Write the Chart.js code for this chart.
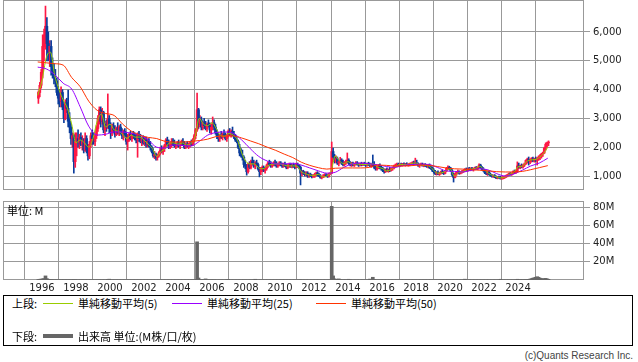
<!DOCTYPE html>
<html>
<head>
<meta charset="utf-8">
<script src="https://cdn.jsdelivr.net/npm/chart.js@4.4.1/dist/chart.umd.min.js"></script>
<style>
body { margin: 0; width: 638px; height: 362px; background: #fff; position: relative; overflow: hidden; font-family: "Noto Sans CJK JP", sans-serif; }
canvas { position: absolute; left: 0; }
#price { top: 0; }
#volume { top: 200px; }
.t { position: absolute; font-size: 11px; line-height: 12px; color: #000; white-space: nowrap; }
#legend { position: absolute; left: 3px; top: 295px; width: 628px; height: 49px; border: 1px solid #000; }
.ln { position: absolute; width: 30px; height: 1px; }
#copy { position: absolute; right: 5px; top: 350px; font-family: "Liberation Sans", sans-serif; font-size: 10px; color: #444; }
</style>
</head>
<body>
<canvas id="price" width="638" height="191"></canvas>
<canvas id="volume" width="638" height="94"></canvas>
<div class="t" style="left:7px; top:204px;">単位: M</div>
<div id="legend">
  <div class="t" style="left:8px; top:1px;">上段:</div>
  <div class="ln" style="left:39px; top:7px; background:#99cc00;"></div>
  <div class="t" style="left:74px; top:1px;">単純移動平均(5)</div>
  <div class="ln" style="left:168px; top:7px; background:#9900ff;"></div>
  <div class="t" style="left:203px; top:1px;">単純移動平均(25)</div>
  <div class="ln" style="left:312px; top:7px; background:#ff3300;"></div>
  <div class="t" style="left:347px; top:1px;">単純移動平均(50)</div>
  <div class="t" style="left:8px; top:34px;">下段:</div>
  <div class="ln" style="left:39px; top:38px; height:4px; background:#666;"></div>
  <div class="t" style="left:74px; top:34px;">出来高 単位:(M株/口/枚)</div>
</div>
<div id="copy">(c)Quants Research Inc.</div>

<script>
// monthly candles, first one is October 1995
const startYear = 1995;
const startMonth = 10;

const candleOpen = [
  3700, 3900, 4150,
  4600, 5500, 5900, 6200, 5600, 5300, 5500, 4800, 4700, 4400, 4300, 3900,
  3700, 3600, 3900, 3400, 3000, 3550, 3350, 2900, 2700, 2300, 2400, 1500,
  2200, 2300, 2150, 2350, 2100, 2200, 1900, 2300, 1900, 1700, 2100, 2400,
  2300, 2200, 2400, 2650, 3000, 3300, 2900, 3200, 2600, 2800, 2700, 3000,
  2650, 2500, 2700, 2600, 2450, 2650, 2500, 2700, 2500, 2400, 2550, 2400,
  2200, 2350, 2450, 2300, 2450, 2400, 2350, 2250, 2400, 2300, 2200, 2300,
  2150, 2250, 2100, 2200, 2050, 2000, 1850, 1700, 1750, 1650, 1700, 1800,
  1900, 1850, 1950, 2050, 2250, 2100, 2000, 2100, 2200, 2100, 2050, 2050,
  2150, 2050, 2100, 2200, 2100, 2000, 2100, 2050, 2100, 2150, 2100, 2250,
  2400, 2600, 3300, 2800, 2950, 2700, 2850, 2750, 2650, 2800, 2750, 2600,
  2700, 2850, 2700, 2500, 2400, 2300, 2400, 2350, 2450, 2400, 2300, 2400,
  2550, 2450, 2550, 2450, 2350, 2250, 2200, 2000, 1800, 1700, 1650, 1400,
  1350, 1150, 1400, 1300, 1500, 1450, 1350, 1450, 1400, 1250, 1150, 1250,
  1300, 1200, 1250, 1350, 1450, 1400, 1350, 1400, 1450, 1400, 1350, 1400,
  1450, 1400, 1350, 1400, 1350, 1300, 1350, 1400, 1320, 1380, 1330, 1300,
  1400, 1350, 1300, 1100, 1150, 1100, 1050, 1100, 1000, 1050, 1000, 980,
  1000, 1050, 1100, 1050, 1000, 950, 980, 1000, 1030, 1000, 990, 1080,
  1100, 1850, 1650, 1500, 1600, 1450, 1500, 1550, 1450, 1400, 1450, 1500,
  1550, 1450, 1400, 1420, 1380, 1420, 1450, 1400, 1380, 1420, 1400, 1430,
  1400, 1380, 1420, 1400, 1350, 1450, 1380, 1300, 1250, 1300, 1350, 1280,
  1250, 1200, 1150, 1220, 1180, 1230, 1200, 1260, 1280, 1350, 1380, 1400,
  1370, 1400, 1380, 1420, 1390, 1410, 1380, 1400, 1420, 1440, 1460, 1430,
  1450, 1420, 1370, 1390, 1410, 1360, 1390, 1350, 1340, 1380, 1300, 1270,
  1200, 1150, 1080, 1120, 1070, 1100, 1140, 1120, 1090, 1180, 1270, 1300,
  1250, 1180, 1050, 950, 1060, 1120, 1150, 1100, 1130, 1170, 1190, 1230,
  1210, 1240, 1220, 1260, 1230, 1250, 1280, 1260, 1300, 1380, 1300, 1240,
  1200, 1120, 1090, 1130, 1060, 1020, 990, 1010, 970, 940, 960, 950,
  920, 940, 960, 980, 1010, 1040, 1080, 1060, 1090, 1150, 1120, 1180,
  1350, 1300, 1350, 1320, 1380, 1420, 1540, 1580, 1500, 1560, 1600, 1550,
  1590, 1560, 1600, 1660, 1700, 1760, 1800, 1960, 2100, 2150
];
const candleHigh = [
  3950, 4250, 4700,
  5900, 6100, 6900, 6500, 6000, 5700, 5700, 5100, 4900, 4700, 4400, 4100,
  4000, 4100, 4000, 3500, 3650, 3700, 3980, 3200, 2800, 2500, 2450, 2500,
  2500, 2600, 2450, 2500, 2400, 2300, 2500, 2400, 2100, 2200, 2500, 2600,
  2500, 2450, 2750, 3100, 3400, 3400, 3350, 3250, 2900, 2950, 3850, 3100,
  2850, 2800, 2850, 2750, 2700, 2850, 2750, 2800, 2650, 2600, 2650, 2500,
  2450, 2500, 2550, 2500, 2550, 2500, 2450, 2500, 2550, 2450, 2350, 2400,
  2350, 2350, 2300, 2300, 2200, 2050, 1950, 1850, 1800, 1750, 1850, 2000,
  2050, 2000, 2100, 2300, 2350, 2250, 2150, 2300, 2300, 2250, 2150, 2200,
  2250, 2150, 2250, 2300, 2200, 2150, 2200, 2150, 2200, 2250, 2300, 2450,
  2650, 3880, 3350, 3100, 3050, 2900, 3000, 2900, 2850, 2950, 2850, 2800,
  3050, 2950, 2800, 2600, 2500, 2450, 2550, 2500, 2600, 2500, 2450, 2600,
  2650, 2600, 2700, 2550, 2450, 2350, 2250, 2100, 1950, 1900, 1700, 1550,
  1400, 1450, 1500, 1550, 1660, 1550, 1500, 1550, 1450, 1300, 1300, 1350,
  1350, 1300, 1400, 1500, 1550, 1500, 1450, 1500, 1550, 1500, 1450, 1500,
  1500, 1450, 1450, 1480, 1400, 1400, 1450, 1450, 1400, 1450, 1400, 1450,
  1450, 1400, 1350, 1200, 1200, 1150, 1150, 1150, 1100, 1100, 1050, 1050,
  1100, 1140, 1150, 1100, 1050, 1000, 1050, 1080, 1080, 1050, 1100, 1120,
  2180, 1970, 1750, 1700, 1660, 1550, 1650, 1600, 1550, 1500, 1550, 1800,
  1600, 1500, 1480, 1480, 1450, 1500, 1500, 1450, 1450, 1480, 1460, 1480,
  1450, 1450, 1480, 1450, 1420, 1730, 1500, 1400, 1350, 1400, 1420, 1350,
  1300, 1250, 1250, 1280, 1250, 1300, 1280, 1310, 1380, 1420, 1450, 1450,
  1430, 1450, 1440, 1460, 1440, 1460, 1430, 1450, 1470, 1500, 1520, 1620,
  1550, 1460, 1420, 1450, 1450, 1420, 1430, 1400, 1400, 1420, 1350, 1320,
  1250, 1200, 1150, 1180, 1130, 1170, 1210, 1160, 1200, 1300, 1350, 1340,
  1300, 1220, 1100, 1100, 1150, 1210, 1180, 1160, 1200, 1220, 1260, 1280,
  1270, 1300, 1290, 1300, 1280, 1310, 1330, 1320, 1420, 1410, 1340, 1290,
  1230, 1170, 1160, 1180, 1100, 1060, 1040, 1050, 1010, 990, 1000, 990,
  970, 990, 1000, 1030, 1060, 1100, 1120, 1110, 1180, 1210, 1200, 1490,
  1450, 1380, 1420, 1400, 1450, 1560, 1620, 1660, 1600, 1640, 1660, 1620,
  1660, 1640, 1700, 1740, 1790, 1830, 2000, 2150, 2180, 2220
];
const candleLow = [
  3520, 3750, 4050,
  4400, 5000, 5400, 5000, 5000, 4800, 4500, 4400, 4200, 4100, 3800, 3500,
  3400, 3400, 3300, 2850, 2950, 3200, 2700, 2500, 2100, 2000, 1100, 1300,
  1700, 2000, 1950, 2050, 1900, 1800, 1850, 1800, 1550, 1600, 2000, 2100,
  2100, 2050, 2300, 2550, 2800, 2700, 2800, 2500, 2400, 2550, 2650, 2500,
  2300, 2400, 2500, 2350, 2400, 2450, 2400, 2450, 2300, 2250, 2350, 2100,
  1900, 2200, 2250, 2200, 2300, 2250, 2150, 1650, 2200, 2150, 2050, 2100,
  2050, 2000, 2000, 2000, 1900, 1800, 1650, 1600, 1550, 1550, 1650, 1750,
  1800, 1750, 1850, 2000, 2050, 1950, 1950, 2000, 2050, 2000, 1950, 2000,
  2000, 1950, 2050, 2050, 1950, 1950, 2000, 1950, 2000, 2050, 2050, 2200,
  2300, 2550, 2650, 2700, 2600, 2600, 2650, 2600, 2550, 2700, 2500, 2450,
  2600, 2600, 2450, 2300, 2200, 2200, 2300, 2250, 2350, 2250, 2200, 2350,
  2400, 2350, 2400, 2300, 2200, 2150, 1950, 1700, 1650, 1550, 1300, 1250,
  1030, 1100, 1250, 1250, 1400, 1300, 1250, 1350, 1200, 970, 1050, 1150,
  1150, 1100, 1200, 1300, 1350, 1300, 1300, 1350, 1350, 1300, 1300, 1350,
  1350, 1300, 1300, 1320, 1250, 1250, 1300, 1300, 1280, 1300, 1250, 1280,
  1300, 1250, 690, 1000, 1050, 1000, 1000, 950, 950, 970, 930, 950,
  950, 1000, 1000, 980, 920, 900, 940, 960, 980, 950, 960, 1050,
  1080, 1550, 1450, 1450, 1400, 1350, 1450, 1400, 1350, 1350, 1400, 1450,
  1400, 1350, 1330, 1350, 1330, 1380, 1380, 1330, 1350, 1350, 1360, 1370,
  1330, 1340, 1360, 1320, 1300, 1350, 1250, 1200, 1200, 1250, 1250, 1200,
  1150, 1100, 1120, 1150, 1130, 1150, 1170, 1200, 1250, 1300, 1320, 1340,
  1320, 1350, 1340, 1360, 1340, 1360, 1340, 1350, 1370, 1390, 1400, 1410,
  1400, 1330, 1300, 1350, 1340, 1320, 1330, 1300, 1280, 1260, 1230, 1150,
  1100, 1050, 1030, 1050, 1020, 1060, 1090, 1050, 1070, 1150, 1220, 1220,
  1150, 1000, 790, 930, 1020, 1080, 1060, 1070, 1100, 1120, 1150, 1180,
  1160, 1190, 1180, 1200, 1170, 1210, 1230, 1220, 1270, 1270, 1200, 1160,
  1080, 1050, 1020, 1040, 990, 960, 950, 940, 910, 900, 920, 890,
  880, 900, 910, 940, 970, 1000, 1030, 1020, 1060, 1080, 1090, 1150,
  1260, 1250, 1280, 1270, 1330, 1400, 1450, 1380, 1430, 1480, 1500, 1480,
  1500, 1380, 1540, 1570, 1620, 1680, 1780, 1900, 2000, 2050
];
const candleClose = [
  3900, 4150, 4600,
  5500, 5900, 6200, 5600, 5300, 5500, 4800, 4700, 4400, 4300, 3900, 3700,
  3600, 3900, 3400, 3000, 3550, 3350, 2900, 2700, 2300, 2400, 1500, 2200,
  2300, 2150, 2350, 2100, 2200, 1900, 2300, 1900, 1700, 2100, 2400, 2300,
  2200, 2400, 2650, 3000, 3300, 2900, 3200, 2600, 2800, 2700, 3000, 2650,
  2500, 2700, 2600, 2450, 2650, 2500, 2700, 2500, 2400, 2550, 2400, 2200,
  2350, 2450, 2300, 2450, 2400, 2350, 2250, 2400, 2300, 2200, 2300, 2150,
  2250, 2100, 2200, 2050, 2000, 1850, 1700, 1750, 1650, 1700, 1800, 1900,
  1850, 1950, 2050, 2250, 2100, 2000, 2100, 2200, 2100, 2050, 2050, 2150,
  2050, 2100, 2200, 2100, 2000, 2100, 2050, 2100, 2150, 2100, 2250, 2400,
  2600, 3300, 2800, 2950, 2700, 2850, 2750, 2650, 2800, 2750, 2600, 2700,
  2850, 2700, 2500, 2400, 2300, 2400, 2350, 2450, 2400, 2300, 2400, 2550,
  2450, 2550, 2450, 2350, 2250, 2200, 2000, 1800, 1700, 1650, 1400, 1350,
  1150, 1400, 1300, 1500, 1450, 1350, 1450, 1400, 1250, 1150, 1250, 1300,
  1200, 1250, 1350, 1450, 1400, 1350, 1400, 1450, 1400, 1350, 1400, 1450,
  1400, 1350, 1400, 1350, 1300, 1350, 1400, 1320, 1380, 1330, 1300, 1400,
  1350, 1300, 1100, 1150, 1100, 1050, 1100, 1000, 1050, 1000, 980, 1000,
  1050, 1100, 1050, 1000, 950, 980, 1000, 1030, 1000, 990, 1080, 1100,
  1850, 1650, 1500, 1600, 1450, 1500, 1550, 1450, 1400, 1450, 1500, 1550,
  1450, 1400, 1420, 1380, 1420, 1450, 1400, 1380, 1420, 1400, 1430, 1400,
  1380, 1420, 1400, 1350, 1400, 1380, 1300, 1250, 1300, 1350, 1280, 1250,
  1200, 1150, 1220, 1180, 1230, 1200, 1260, 1280, 1350, 1380, 1400, 1370,
  1400, 1380, 1420, 1390, 1410, 1380, 1400, 1420, 1440, 1460, 1430, 1450,
  1420, 1370, 1390, 1410, 1360, 1390, 1350, 1340, 1380, 1300, 1270, 1200,
  1150, 1080, 1120, 1070, 1100, 1140, 1120, 1090, 1180, 1270, 1300, 1250,
  1180, 1050, 950, 1060, 1120, 1150, 1100, 1130, 1170, 1190, 1230, 1210,
  1240, 1220, 1260, 1230, 1250, 1280, 1260, 1300, 1380, 1300, 1240, 1200,
  1120, 1090, 1130, 1060, 1020, 990, 1010, 970, 940, 960, 950, 920,
  940, 960, 980, 1010, 1040, 1080, 1060, 1090, 1150, 1120, 1180, 1350,
  1300, 1350, 1320, 1380, 1420, 1540, 1580, 1500, 1560, 1600, 1550, 1590,
  1560, 1600, 1660, 1700, 1760, 1800, 1960, 2100, 2150, 2180
];

// volume in millions of shares, same months as the candles
const volume = [
  0.6, 0.8, 1.0,
  1.2, 1.5, 4.5, 1.5, 0.8, 0.5, 0.3, 0.3, 0.2, 0.2, 0.2, 0.2,
  0.2, 0.2, 0.2, 0.2, 0.2, 0.2, 0.2, 0.2, 0.2, 0.2, 0.3, 0.3,
  0.1, 0.1, 0.1, 0.1, 0.1, 0.1, 0.1, 0.1, 0.1, 0.1, 0.1, 0.1,
  0.1, 0.1, 0.1, 0.1, 0.1, 0.1, 0.1, 0.1, 0.1, 0.1, 0.5, 0.9,
  0.1, 0.1, 0.1, 0.1, 0.1, 0.1, 0.1, 0.1, 0.1, 0.1, 0.1, 0.1,
  0.1, 0.1, 0.1, 0.1, 0.1, 0.1, 0.1, 0.1, 0.1, 0.1, 0.1, 0.1,
  0.1, 0.1, 0.1, 0.1, 0.1, 0.1, 0.1, 0.1, 0.1, 0.1, 0.1, 0.1,
  0.1, 0.1, 0.1, 0.1, 0.1, 0.1, 0.1, 0.1, 0.1, 0.1, 0.1, 0.1,
  0.1, 0.1, 0.1, 0.1, 0.1, 0.1, 0.1, 0.1, 0.1, 0.1, 0.1, 0.2,
  0.2, 42.0, 2.2, 0.6, 0.4, 0.3, 0.3, 1.2, 0.3, 0.2, 0.2, 0.2,
  0.2, 0.2, 0.1, 0.1, 0.1, 0.1, 0.1, 0.1, 0.1, 0.1, 0.2, 0.7,
  0.1, 0.1, 0.1, 0.1, 0.1, 0.1, 0.1, 0.1, 0.1, 0.1, 0.1, 0.1,
  0.1, 0.1, 0.1, 0.1, 0.1, 0.1, 0.8, 0.1, 0.1, 0.1, 0.1, 0.1,
  0.1, 0.1, 0.1, 0.1, 0.1, 0.1, 0.1, 0.1, 0.1, 0.1, 0.1, 0.1,
  0.1, 0.1, 0.1, 0.1, 0.1, 0.1, 0.1, 0.1, 0.1, 0.1, 0.1, 0.1,
  0.1, 0.1, 0.3, 0.1, 0.1, 0.1, 0.1, 0.1, 0.1, 0.1, 0.1, 0.1,
  0.1, 0.1, 0.1, 0.1, 0.1, 0.1, 0.1, 0.1, 0.1, 0.1, 0.1, 0.2,
  81.0, 4.5, 1.3, 0.8, 0.6, 1.2, 0.3, 0.2, 0.2, 0.2, 0.2, 0.2,
  0.8, 0.2, 0.1, 0.1, 0.1, 0.1, 0.1, 0.1, 0.1, 0.1, 0.1, 0.1,
  0.1, 0.1, 0.1, 1.0, 0.3, 3.0, 0.5, 0.2, 0.1, 0.1, 0.1, 0.1,
  0.1, 0.1, 0.1, 0.1, 0.1, 0.1, 0.1, 0.1, 0.1, 0.1, 0.1, 0.1,
  0.1, 0.1, 0.1, 0.1, 0.1, 0.1, 0.1, 0.1, 0.1, 0.1, 0.1, 0.1,
  0.1, 0.1, 0.1, 0.1, 0.1, 0.1, 0.1, 0.1, 0.1, 0.1, 0.1, 0.1,
  0.1, 0.1, 0.1, 0.1, 0.1, 0.1, 0.1, 0.1, 0.1, 0.1, 0.1, 0.1,
  0.1, 0.1, 0.1, 0.1, 0.1, 0.1, 0.1, 0.1, 0.1, 0.1, 0.9, 0.1,
  0.1, 0.1, 0.1, 0.1, 0.1, 0.1, 0.1, 0.1, 0.1, 0.1, 0.1, 0.1,
  0.1, 0.1, 0.1, 0.1, 0.1, 0.1, 0.1, 0.1, 0.1, 0.1, 0.1, 0.8,
  0.1, 0.1, 0.1, 0.1, 0.1, 0.1, 0.1, 0.1, 0.1, 0.1, 0.1, 0.8,
  0.3, 0.3, 0.3, 0.3, 0.3, 0.4, 0.5, 0.6, 1.0, 1.5, 2.0, 2.5,
  3.0, 3.6, 3.0, 2.0, 1.5, 1.2, 1.5, 1.8, 1.2, 0.8
];

// moving averages: MA5 every quarter, MA25 / MA50 every half year, from 1995.75
const maStart = 1995.75;
const ma5 = [
  3800, 4300, 5100, 5300, 4500, 4000, 3640, 3350, 2800, 2150, 2250, 2150, 2000,
  2300, 2900, 3150, 2700, 2800, 2600, 2550, 2450, 2300, 2420, 2350, 2350,
  2250, 2100, 1950, 1680, 1850, 1950, 2150, 2150, 2100, 2150, 2080, 2120,
  2350, 3000, 2800, 2750, 2850, 2650, 2400, 2380, 2480, 2420, 2250, 1800,
  1500, 1420, 1420, 1280, 1250, 1350, 1400, 1420, 1420, 1380, 1350, 1350,
  1350, 1150, 1080, 1030, 1020, 1060, 970, 1000, 1150, 1700, 1520, 1430,
  1500, 1420, 1420, 1400, 1400, 1390, 1420, 1300, 1270, 1180, 1210, 1320,
  1390, 1400, 1400, 1440, 1450, 1380, 1370, 1350, 1220, 1100, 1110, 1170,
  1250, 1000, 1120, 1150, 1220, 1240, 1260, 1340, 1220, 1100, 1020, 970,
  930, 970, 1060, 1130, 1320, 1340, 1500, 1560, 1570, 1650, 1780, 2000
];
const ma25 = [
  4780, 4720, 4520, 4220, 4020, 3400, 2730, 2420, 2450, 2530, 2530, 2480,
  2420, 2250, 2000, 1970, 2080, 2060, 2040, 2200, 2420, 2510, 2530, 2480,
  2250, 1950, 1680, 1520, 1420, 1420, 1440, 1380, 1280, 1180, 1100, 1130,
  1300, 1420, 1450, 1420, 1390, 1330, 1300, 1370, 1400, 1410, 1400, 1300,
  1180, 1160, 1140, 1200, 1250, 1210, 1080, 1000, 1070, 1200, 1350, 1450,
  1620
];
const ma50 = [
  4960, 4930, 4900, 4850, 4420, 4100, 3600, 3280, 3170, 3100, 2800, 2560,
  2420, 2340, 2300, 2200, 2180, 2180, 2200, 2230, 2280, 2370, 2390, 2390,
  2320, 2220, 2120, 2000, 1890, 1760, 1640, 1480, 1370, 1290, 1240, 1270,
  1280, 1280, 1280, 1300, 1380, 1370, 1350, 1350, 1360, 1380, 1370, 1330,
  1280, 1250, 1240, 1220, 1200, 1180, 1150, 1140, 1140, 1160, 1220, 1290,
  1360
];

const yearTicks = [1996, 1998, 2000, 2002, 2004, 2006, 2008, 2010, 2012, 2014, 2016, 2018, 2020, 2022, 2024];
const priceTicks = [1000, 2000, 3000, 4000, 5000, 6000];
const volumeTicks = [20, 40, 60, 80];

const gridColor = '#999999';
const upColor = '#ff1744';
const downColor = '#0a3c9c';
const xMin = 1993.71;
const xMax = 2027.82;

Chart.defaults.font.family = '"DejaVu Sans", sans-serif';
Chart.defaults.font.size = 10;
Chart.defaults.color = '#222';

function monthPos(i) {
  return startYear + (startMonth - 1 + i + 0.5) / 12;
}

// no label padding, so the plot area fills the canvas
function noPad(s) {
  s.paddingTop = 0;
  s.paddingBottom = 0;
  s.paddingLeft = 0;
  s.paddingRight = 0;
}

// gray frame round the plot area
const frame = {
  id: 'frame',
  beforeDatasetsDraw(chart) {
    const a = chart.chartArea;
    const c = chart.ctx;
    c.save();
    c.strokeStyle = gridColor;
    c.lineWidth = 1;
    c.strokeRect(Math.round(a.left) + 0.5, Math.round(a.top) + 0.5,
      Math.round(a.right - a.left), Math.round(a.bottom - a.top) - 1);
    c.restore();
  }
};

function candleColor(ctx) {
  const i = ctx.dataIndex;
  if (i === undefined) return upColor;
  return candleClose[i] >= candleOpen[i] ? upColor : downColor;
}

function maLine(values, step, color) {
  return {
    type: 'line',
    data: values.map((v, i) => ({ x: maStart + i * step, y: v })),
    borderColor: color,
    borderWidth: 1,
    pointRadius: 0,
    cubicInterpolationMode: 'monotone',
    order: 0
  };
}

const wicks = candleHigh.map((h, i) => ({ x: monthPos(i), y: [candleLow[i], h] }));
const bodies = candleOpen.map((o, i) => ({ x: monthPos(i), y: [o, candleClose[i]] }));

new Chart(document.getElementById('price'), {
  type: 'bar',
  data: {
    datasets: [
      maLine(ma50, 0.5, '#ff3300'),
      maLine(ma25, 0.5, '#9900ff'),
      maLine(ma5, 0.25, '#99cc00'),
      { data: wicks, backgroundColor: candleColor, barThickness: 1, grouped: false, order: 2 },
      { data: bodies, backgroundColor: candleColor, barThickness: 2, grouped: false, order: 1 }
    ]
  },
  options: {
    responsive: false,
    animation: false,
    devicePixelRatio: 1,
    layout: { padding: { left: 3, top: 0, right: 0, bottom: 1 } },
    plugins: { legend: { display: false }, tooltip: { enabled: false } },
    scales: {
      x: {
        type: 'linear', min: xMin, max: xMax, offset: false,
        afterBuildTicks: s => { s.ticks = yearTicks.map(v => ({ value: v })); },
        afterFit: s => { s.height = 0; noPad(s); },
        ticks: { display: false },
        grid: { color: gridColor, drawTicks: false },
        border: { display: false }
      },
      y: {
        type: 'linear', position: 'right', min: 514, max: 7111,
        afterBuildTicks: s => { s.ticks = priceTicks.map(v => ({ value: v })); },
        afterFit: s => { s.width = 55; noPad(s); },
        ticks: { callback: v => v.toLocaleString('en-US'), padding: 3 },
        grid: { color: gridColor, tickLength: 7 },
        border: { display: false }
      }
    }
  },
  plugins: [frame]
});

new Chart(document.getElementById('volume'), {
  type: 'bar',
  data: {
    datasets: [{
      data: volume.map((v, i) => ({ x: monthPos(i), y: v })),
      backgroundColor: '#666666',
      barThickness: 3
    }]
  },
  options: {
    responsive: false,
    animation: false,
    devicePixelRatio: 1,
    layout: { padding: { left: 3, top: 1, right: 0, bottom: 0 } },
    plugins: { legend: { display: false }, tooltip: { enabled: false } },
    scales: {
      x: {
        type: 'linear', min: xMin, max: xMax, offset: false,
        afterBuildTicks: s => { s.ticks = yearTicks.map(v => ({ value: v })); },
        afterFit: s => { s.height = 14; noPad(s); },
        ticks: { callback: v => String(v), padding: 2, maxRotation: 0, autoSkip: false },
        grid: { color: gridColor, drawTicks: false },
        border: { display: false }
      },
      y: {
        type: 'linear', position: 'right', min: 0, max: 86.9,
        afterBuildTicks: s => { s.ticks = volumeTicks.map(v => ({ value: v })); },
        afterFit: s => { s.width = 55; noPad(s); },
        ticks: { callback: v => v + 'M', padding: 3 },
        grid: { color: gridColor, tickLength: 7 },
        border: { display: false }
      }
    }
  },
  plugins: [frame]
});
</script>
</body>
</html>
